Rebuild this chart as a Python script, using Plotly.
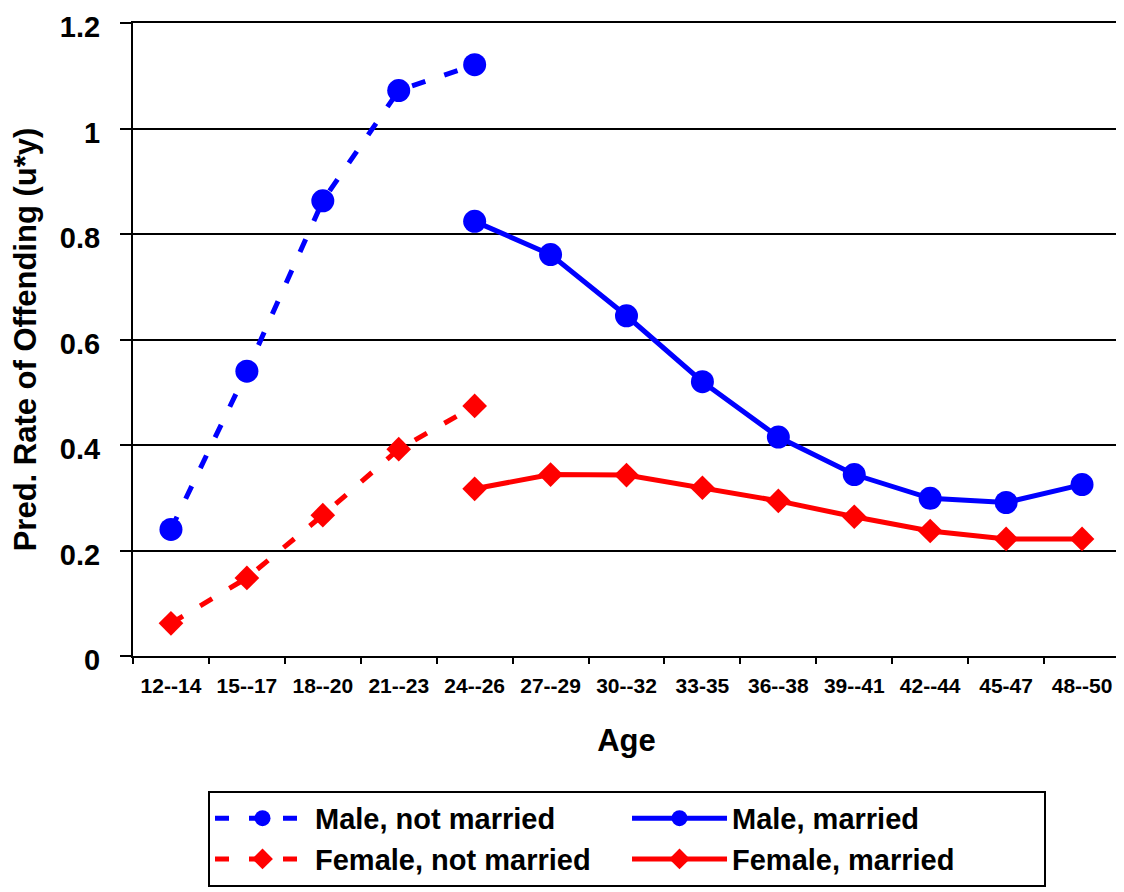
import plotly.graph_objects as go

ages = ["12--14", "15--17", "18--20", "21--23", "24--26", "27--29", "30--32",
        "33-35", "36--38", "39--41", "42--44", "45-47", "48--50"]

male_nm_ages = ages[:5]
male_nm = [0.240, 0.540, 0.863, 1.072, 1.121]
male_m_ages = ages[4:]
male_m = [0.824, 0.761, 0.645, 0.520, 0.415, 0.344, 0.299, 0.291, 0.325]

female_nm_ages = ages[:5]
female_nm = [0.062, 0.148, 0.267, 0.392, 0.474]
female_m_ages = ages[4:]
female_m = [0.317, 0.344, 0.343, 0.319, 0.294, 0.264, 0.237, 0.222, 0.222]

BLUE = "#0000FF"
RED = "#FF0000"
FONT = "Liberation Sans, Arial, sans-serif"

fig = go.Figure()
fig.add_trace(go.Scatter(x=male_nm_ages, y=male_nm, name="Male, not married",
                         mode="lines+markers",
                         line=dict(color=BLUE, width=5, dash="14px,20px"),
                         marker=dict(symbol="circle", size=23, color=BLUE)))
fig.add_trace(go.Scatter(x=male_m_ages, y=male_m, name="Male, married",
                         mode="lines+markers",
                         line=dict(color=BLUE, width=5),
                         marker=dict(symbol="circle", size=23, color=BLUE)))
fig.add_trace(go.Scatter(x=female_nm_ages, y=female_nm, name="Female, not married",
                         mode="lines+markers",
                         line=dict(color=RED, width=5, dash="14px,20px"),
                         marker=dict(symbol="diamond", size=19, color=RED)))
fig.add_trace(go.Scatter(x=female_m_ages, y=female_m, name="Female, married",
                         mode="lines+markers",
                         line=dict(color=RED, width=5),
                         marker=dict(symbol="diamond", size=19, color=RED)))

fig.update_layout(
    width=1116, height=884,
    margin=dict(l=125, r=4, t=15, b=236, autoexpand=False),
    paper_bgcolor="white", plot_bgcolor="white",
    font=dict(family=FONT, color="black", weight="bold"),
    showlegend=True,
    legend=dict(orientation="h", x=0.076, xanchor="left", y=-0.213, yanchor="top",
                bordercolor="black", borderwidth=2, bgcolor="white",
                font=dict(family=FONT, size=29, color="black", weight="bold"),
                entrywidth=307, entrywidthmode="pixels", itemwidth=95,
                traceorder="normal"),
)
fig.update_xaxes(
    type="category", categoryorder="array", categoryarray=ages,
    range=[-0.5, 12.5],
    showline=True, linecolor="black", linewidth=2, mirror=True,
    ticks="outside", tickson="boundaries", ticklen=6, tickwidth=2, tickcolor="black",
    ticklabelstandoff=10,
    tickfont=dict(family=FONT, size=21, color="black", weight="bold"),
    showgrid=False, zeroline=False,
    title=dict(text="Age", font=dict(family=FONT, size=31, color="black", weight="bold"),
               standoff=33),
)
fig.update_yaxes(
    range=[0, 1.2], dtick=0.2, tick0=0,
    showline=True, linecolor="black", linewidth=2, mirror=True,
    ticks="outside", ticklen=11, tickwidth=2, tickcolor="black",
    ticklabelstandoff=14, ticklabeloverflow="allow", ticklabelshift=4,
    tickfont=dict(family=FONT, size=29, color="black", weight="bold"),
    showgrid=True, gridcolor="black", gridwidth=2, zeroline=False,
    title=dict(text="Pred. Rate of Offending (u*y)",
               font=dict(family=FONT, size=31, color="black", weight="bold"),
               standoff=16),
)

fig.write_html("out.html")
